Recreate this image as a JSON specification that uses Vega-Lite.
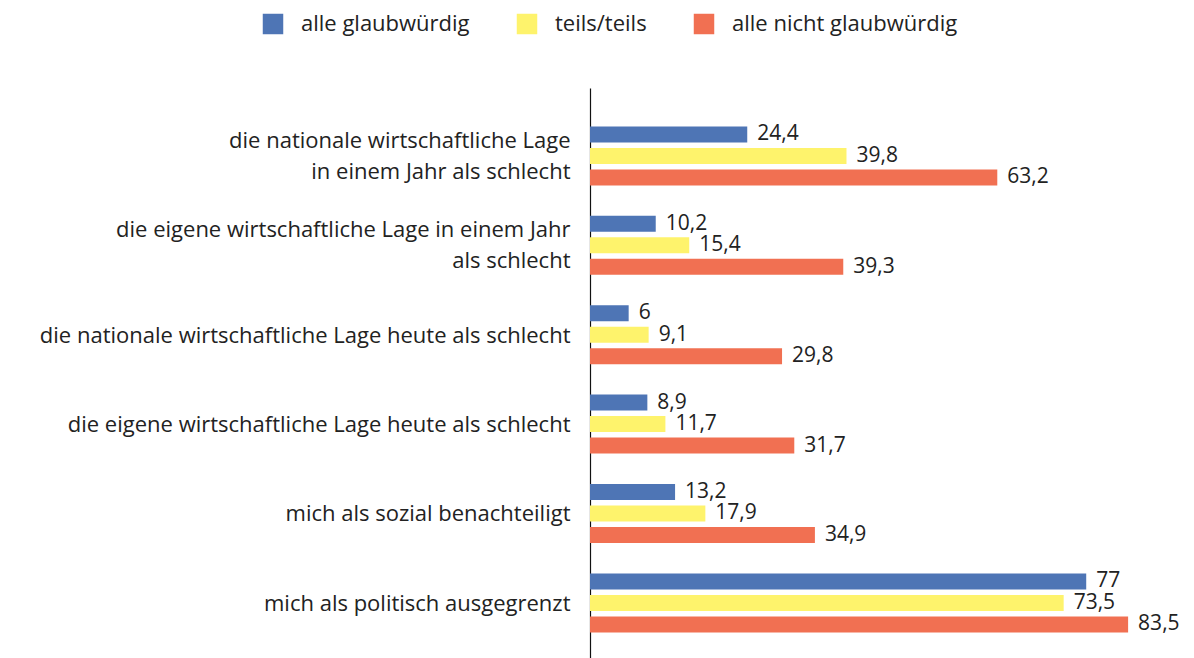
{
  "$schema": "https://vega.github.io/schema/vega-lite/v6.json",
  "width": 580,
  "height": 570,
  "autosize": {"type": "none"},
  "padding": {"left": 590, "top": 88, "right": 24, "bottom": 0},
  "background": "white",
  "config": {
    "font": "Open Sans",
    "view": {"stroke": null},
    "locale": {"number": {"decimal": ",", "thousands": ".", "grouping": [3], "currency": ["", " €"]}}
  },
  "data": {
    "values": [
      {"cat": "die nationale  wirtschaftliche Lage|in einem Jahr als schlecht", "series": "alle glaubwürdig", "value": 24.4},
      {"cat": "die nationale  wirtschaftliche Lage|in einem Jahr als schlecht", "series": "teils/teils", "value": 39.8},
      {"cat": "die nationale  wirtschaftliche Lage|in einem Jahr als schlecht", "series": "alle nicht glaubwürdig", "value": 63.2},
      {"cat": "die eigene wirtschaftliche Lage in einem Jahr|als schlecht", "series": "alle glaubwürdig", "value": 10.2},
      {"cat": "die eigene wirtschaftliche Lage in einem Jahr|als schlecht", "series": "teils/teils", "value": 15.4},
      {"cat": "die eigene wirtschaftliche Lage in einem Jahr|als schlecht", "series": "alle nicht glaubwürdig", "value": 39.3},
      {"cat": "die nationale wirtschaftliche Lage heute als schlecht", "series": "alle glaubwürdig", "value": 6},
      {"cat": "die nationale wirtschaftliche Lage heute als schlecht", "series": "teils/teils", "value": 9.1},
      {"cat": "die nationale wirtschaftliche Lage heute als schlecht", "series": "alle nicht glaubwürdig", "value": 29.8},
      {"cat": "die eigene wirtschaftliche Lage heute als schlecht", "series": "alle glaubwürdig", "value": 8.9},
      {"cat": "die eigene wirtschaftliche Lage heute als schlecht", "series": "teils/teils", "value": 11.7},
      {"cat": "die eigene wirtschaftliche Lage heute als schlecht", "series": "alle nicht glaubwürdig", "value": 31.7},
      {"cat": "mich als sozial benachteiligt", "series": "alle glaubwürdig", "value": 13.2},
      {"cat": "mich als sozial benachteiligt", "series": "teils/teils", "value": 17.9},
      {"cat": "mich als sozial benachteiligt", "series": "alle nicht glaubwürdig", "value": 34.9},
      {"cat": "mich als politisch ausgegrenzt", "series": "alle glaubwürdig", "value": 77},
      {"cat": "mich als politisch ausgegrenzt", "series": "teils/teils", "value": 73.5},
      {"cat": "mich als politisch ausgegrenzt", "series": "alle nicht glaubwürdig", "value": 83.5}
    ]
  },
  "encoding": {
    "y": {
      "field": "cat",
      "type": "nominal",
      "sort": null,
      "scale": {"paddingInner": 0.34, "paddingOuter": 0.358, "align": 0.6},
      "axis": {
        "title": null,
        "ticks": false,
        "domainColor": "#111111",
        "domainWidth": 1.2,
        "labelFontSize": 22,
        "labelColor": "#222222",
        "labelPadding": 20,
        "labelLimit": 600,
        "labelLineHeight": 31,
        "labelOffset": {"condition": {"test": "indexof(datum.value, '|') >= 0", "value": -15}, "value": 1},
        "labelExpr": "split(datum.label, '|')"
      }
    },
    "yOffset": {
      "field": "series",
      "type": "nominal",
      "sort": ["alle glaubwürdig", "teils/teils", "alle nicht glaubwürdig"],
      "scale": {"paddingInner": 0.256, "paddingOuter": 0}
    },
    "x": {
      "field": "value",
      "type": "quantitative",
      "scale": {"domain": [0, 90]},
      "axis": null
    }
  },
  "layer": [
    {
      "mark": {"type": "bar"},
      "encoding": {
        "color": {
          "field": "series",
          "type": "nominal",
          "sort": ["alle glaubwürdig", "teils/teils", "alle nicht glaubwürdig"],
          "scale": {
            "domain": ["alle glaubwürdig", "teils/teils", "alle nicht glaubwürdig"],
            "range": ["#4E75B5", "#FEF36C", "#F17052"]
          },
          "legend": {
            "title": null,
            "orient": "none",
            "direction": "horizontal",
            "legendX": -328,
            "legendY": -75,
            "symbolType": "square",
            "symbolSize": 420,
            "symbolStrokeWidth": 0,
            "labelFontSize": 22,
            "labelColor": "#222222",
            "labelOffset": 17,
            "columnPadding": 46,
            "labelLimit": 400
          }
        }
      }
    },
    {
      "mark": {"type": "text", "align": "left", "baseline": "middle", "dx": 10, "dy": 0, "fontSize": 21, "color": "#222222"},
      "encoding": {
        "text": {"field": "value", "type": "quantitative", "format": "~r"}
      }
    }
  ]
}
